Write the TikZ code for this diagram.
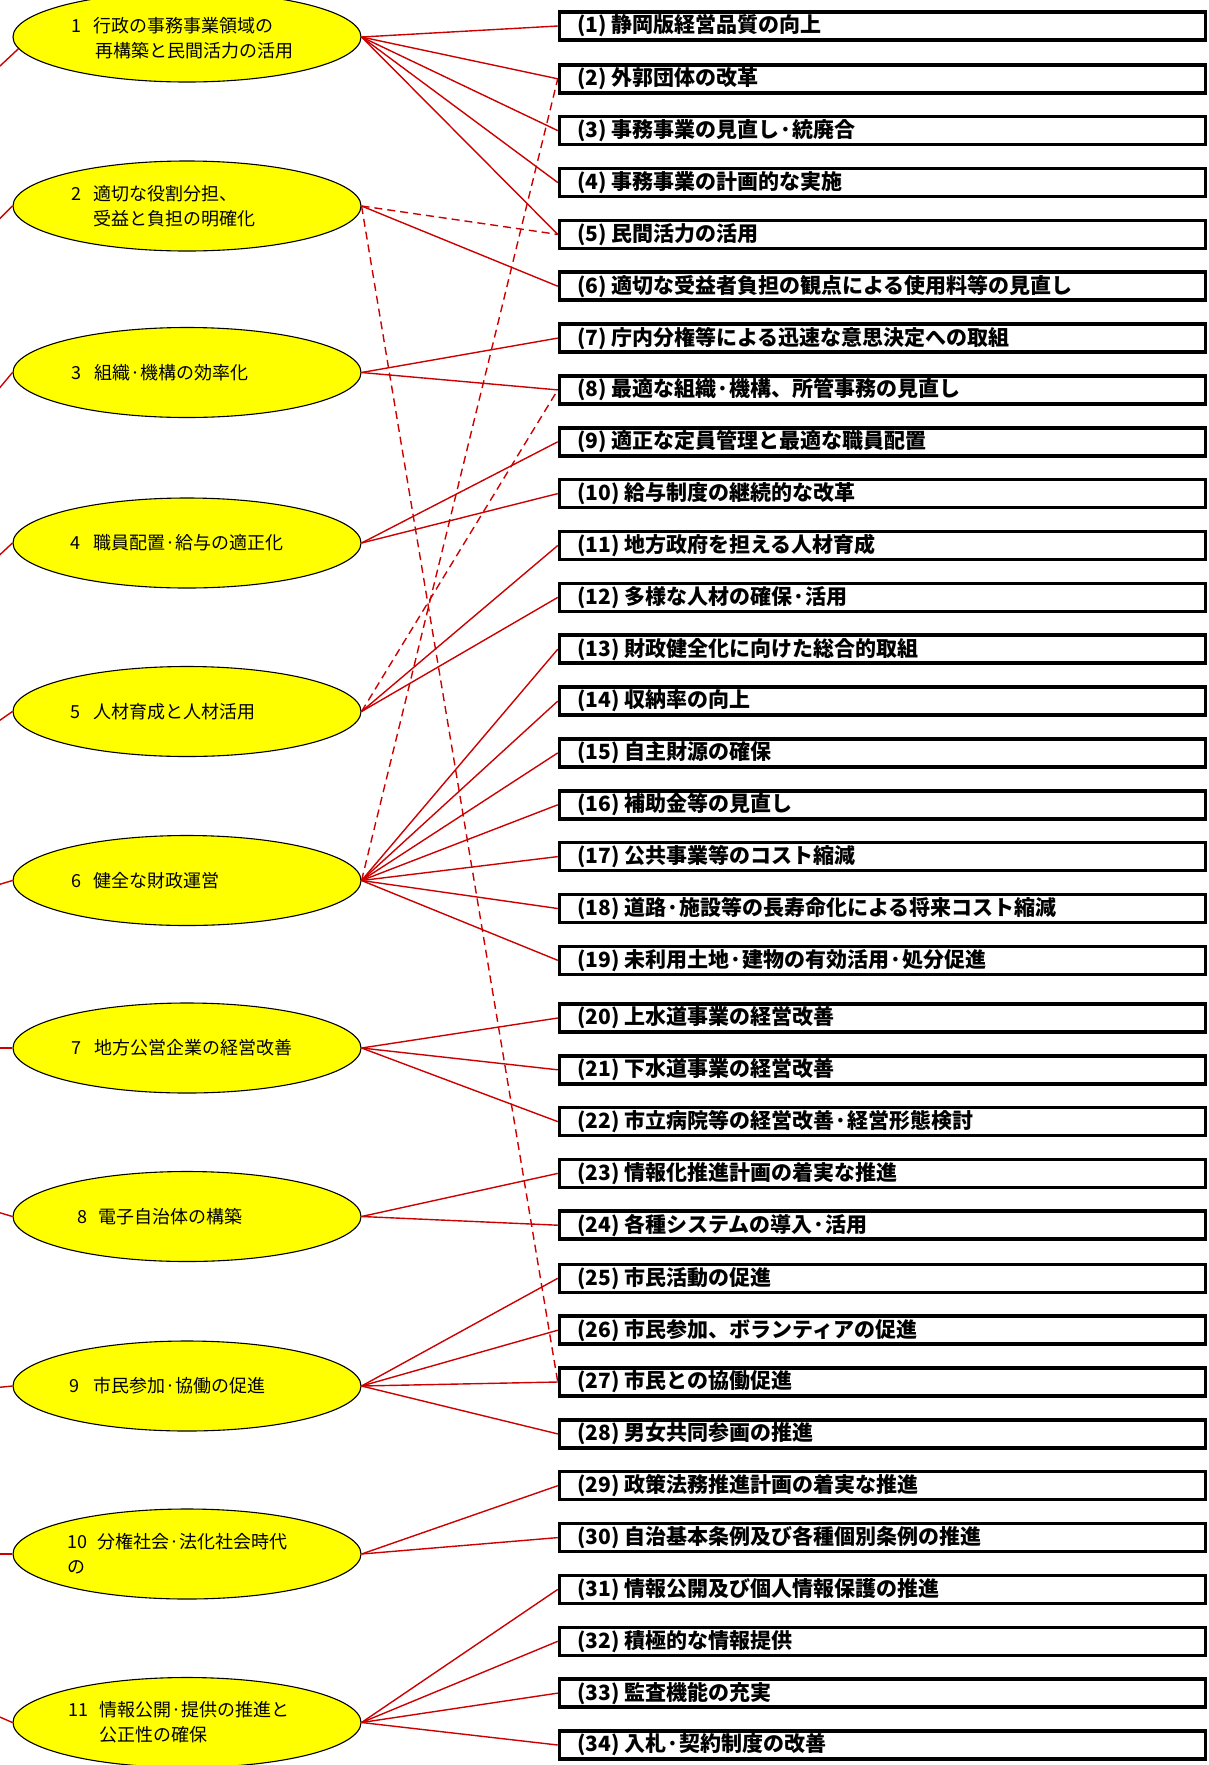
\documentclass[tikz,border=0pt]{standalone}
\usepackage{fontspec}
\setmainfont{Noto Sans CJK JP}
\usetikzlibrary{shapes.geometric}
\definecolor{lnred}{RGB}{204,0,0}
\definecolor{ellfill}{RGB}{255,255,0}
\newcommand{\elabel}[3]{\makebox[#1pt][l]{#2}#3}
\begin{document}
\begin{tikzpicture}[x=1pt,y=-1pt,
  ell/.style={draw=black, line width=1.1pt, fill=ellfill, ellipse, minimum width=348pt, minimum height=90pt, inner sep=0pt},
  elab/.style={anchor=west, align=left, inner sep=0pt, font=\fontsize{18pt}{25pt}\selectfont},
  itembox/.style={draw=black, line width=3.5pt, minimum width=646pt, minimum height=28pt, inner sep=0pt},
  blab/.style={anchor=west, inner sep=0pt, font=\bfseries\fontsize{21pt}{25pt}\selectfont},
  con/.style={draw=lnred, line width=1.4pt},
  dcon/.style={con, dash pattern=on 8pt off 5pt},
]
\useasboundingbox (0,0) rectangle (1208,1765);
\clip (0,0) rectangle (1208,1765);

% ellipses
\foreach \e/\y in {1/37,2/206,3/372.5,4/543,5/711.5,6/880.5,7/1048,8/1216.5,9/1386,10/1554,11/1722.5}
  \node[ell] (E\e) at (187,\y) {};

\node[elab] (EL1) at (71,38) {\elabel{22.5}{1}{行政の事務事業領域の}\\\hspace*{24pt}再構築と民間活力の活用};
\node[elab] (EL2) at (71,206) {\elabel{22}{2}{適切な役割分担、}\\\hspace*{22pt}受益と負担の明確化};
\node[elab] (EL3) at (71,372.5) {\elabel{23}{3}{組織·機構の効率化}};
\node[elab] (EL4) at (70,543) {\elabel{23}{4}{職員配置·給与の適正化}};
\node[elab] (EL5) at (70,711.5) {\elabel{23}{5}{人材育成と人材活用}};
\node[elab] (EL6) at (71,880.5) {\elabel{22.5}{6}{健全な財政運営}};
\node[elab] (EL7) at (71,1048) {\elabel{23}{7}{地方公営企業の経営改善}};
\node[elab] (EL8) at (77,1216.5) {\elabel{21}{8}{電子自治体の構築}};
\node[elab] (EL9) at (69,1386) {\elabel{24}{9}{市民参加·協働の促進}};
\node[elab] (EL10) at (67,1554) {\elabel{30.5}{10}{分権社会·法化社会時代}\\の};
\node[elab] (EL11) at (68,1722.5) {\elabel{31.5}{11}{情報公開·提供の推進と}\\\hspace*{31.5pt}公正性の確保};

% boxes
\foreach \n/\y/\t in {
 1/26/静岡版経営品質の向上,
 2/78.8/外郭団体の改革,
 3/130.6/事務事業の見直し·統廃合,
 4/182.5/事務事業の計画的な実施,
 5/234.4/民間活力の活用,
 6/286.2/適切な受益者負担の観点による使用料等の見直し,
 7/338.1/庁内分権等による迅速な意思決定への取組,
 8/389.9/最適な組織·機構、所管事務の見直し,
 9/441.8/適正な定員管理と最適な職員配置,
 10/493.6/給与制度の継続的な改革,
 11/545.5/地方政府を担える人材育成,
 12/597.4/多様な人材の確保·活用,
 13/649.2/財政健全化に向けた総合的取組,
 14/701.1/収納率の向上,
 15/752.9/自主財源の確保,
 16/804.8/補助金等の見直し,
 17/856.6/公共事業等のコスト縮減,
 18/908.5/道路·施設等の長寿命化による将来コスト縮減,
 19/960.3/未利用土地·建物の有効活用·処分促進,
 20/1018/上水道事業の経営改善,
 21/1069.8/下水道事業の経営改善,
 22/1121.6/市立病院等の経営改善·経営形態検討,
 23/1173.4/情報化推進計画の着実な推進,
 24/1225.2/各種システムの導入·活用,
 25/1278.3/市民活動の促進,
 26/1330.2/市民参加、ボランティアの促進,
 27/1382/市民との協働促進,
 28/1433.9/男女共同参画の推進,
 29/1485.7/政策法務推進計画の着実な推進,
 30/1537.6/自治基本条例及び各種個別条例の推進,
 31/1589.4/情報公開及び個人情報保護の推進,
 32/1641.3/積極的な情報提供,
 33/1693.1/監査機能の充実,
 34/1745/入札·契約制度の改善}
{
  \node[itembox] (b\n) at (882.5,\y) {};
  \node[blab] (t\n) at (577,\y) {(\n) \t};
}

% solid connectors
\foreach \e/\b in {1/1,1/2,1/3,1/4,1/5,2/6,3/7,3/8,4/9,4/10,5/11,5/12,
  6/13,6/14,6/15,6/16,6/17,6/18,6/19,7/20,7/21,7/22,8/23,8/24,
  9/25,9/26,9/27,9/28,10/29,10/30,11/31,11/32,11/33,11/34}
  \draw[con] (E\e.east) -- (b\b.west);

% dashed connectors
\foreach \e/\b in {2/5,2/27,5/8,6/2}
  \draw[dcon] (E\e.east) -- (b\b.west);

% stubs toward the left (off-picture parent)
\foreach \e/\a/\d in {1/184/28,2/180/30,3/180/36,4/180/28,5/180/21,6/180/9,7/180/0,8/180/-9,9/180/3,10/180/0,11/180/-13}
  \draw[con] (E\e.\a) -- ++(-30,\d) coordinate (L\e);
\end{tikzpicture}
\end{document}
